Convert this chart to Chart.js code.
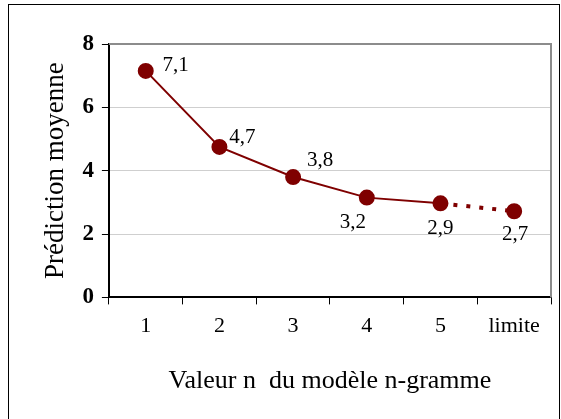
<!DOCTYPE html>
<html>
<head>
<meta charset="utf-8">
<script src="https://cdn.jsdelivr.net/npm/chart.js@4.4.1/dist/chart.umd.min.js"></script>
<style>
  html, body { margin: 0; padding: 0; background: #fff; }
  #cadre { position: absolute; left: 8px; top: 4px; width: 550px; height: 440px; border: 1px solid #000; }
  #zone { position: absolute; left: 0; top: 0; width: 561px; height: 419px; }
</style>
</head>
<body>
<div id="cadre"></div>
<div id="zone"><canvas id="grafico" width="561" height="419"></canvas></div>
<script>
// données
const categories = ["1", "2", "3", "4", "5", "limite"];
const valeurs = [7.15, 4.75, 3.8, 3.15, 2.97, 2.72];
const etiquettes = ["7,1", "4,7", "3,8", "3,2", "2,9", "2,7"];
const ticksY = [0, 2, 4, 6, 8];

const rouge = "#7f0000";
const police = "'Liberation Serif', 'DejaVu Serif', serif";

// décalage des étiquettes par rapport aux points
const decalages = [[30, -5], [23, -9], [27, -17], [-14, 25], [0, 25], [1, 23]];

const pluginEtiquettes = {
    id: "etiquettes",
    afterDatasetsDraw(chart) {
        const ctx = chart.ctx;
        const meta = chart.getDatasetMeta(0);
        ctx.save();
        ctx.font = "21px " + police;
        ctx.fillStyle = "#000";
        ctx.textAlign = "center";
        ctx.textBaseline = "middle";
        meta.data.forEach((p, i) => {
            ctx.fillText(etiquettes[i], p.x + decalages[i][0], p.y + decalages[i][1]);
        });
        ctx.restore();
    }
};

const pluginCadre = {
    id: "cadre",
    beforeDatasetsDraw(chart) {
        const { ctx, chartArea: a } = chart;
        ctx.save();
        ctx.strokeStyle = "#8c8c8c";
        ctx.lineWidth = 2;
        ctx.beginPath();
        ctx.moveTo(a.left, a.top);
        ctx.lineTo(a.right, a.top);
        ctx.lineTo(a.right, a.bottom);
        ctx.stroke();
        ctx.restore();
    }
};

new Chart(document.getElementById("grafico"), {
    type: "line",
    data: {
        labels: categories,
        datasets: [{
            data: valeurs,
            borderColor: rouge,
            backgroundColor: rouge,
            borderWidth: 2,
            pointRadius: 7,
            pointHoverRadius: 7,
            pointBackgroundColor: rouge,
            pointBorderColor: rouge,
            tension: 0,
            segment: {
                borderDash: c => c.p1DataIndex === 5 ? [4, 9] : undefined,
                borderWidth: c => c.p1DataIndex === 5 ? 4 : 2
            }
        }]
    },
    options: {
        responsive: false,
        animation: false,
        layout: { padding: { top: 44, right: 10, bottom: 18, left: 36 } },
        plugins: {
            legend: { display: false },
            tooltip: { enabled: false }
        },
        scales: {
            x: {
                offset: true,
                grid: {
                    offset: true,
                    drawOnChartArea: false,
                    drawTicks: true,
                    tickLength: 7,
                    color: "#000"
                },
                border: { color: "#000", width: 2 },
                ticks: { font: { family: police, size: 22 }, color: "#000", padding: 9 },
                title: {
                    display: true,
                    text: "Valeur n  du modèle n-gramme",
                    font: { family: police, size: 26 },
                    color: "#000",
                    padding: { top: 17 }
                }
            },
            y: {
                min: 0,
                max: 8,
                afterBuildTicks: axis => { axis.ticks = ticksY.map(v => ({ value: v })); },
                grid: {
                    color: "#cfcfcf",
                    tickLength: 7,
                    tickColor: "#000"
                },
                border: { color: "#000", width: 2 },
                ticks: { font: { family: police, size: 23, weight: "bold" }, color: "#000", padding: 8 },
                title: {
                    display: true,
                    text: "Prédiction moyenne",
                    font: { family: police, size: 27 },
                    color: "#000",
                    padding: { bottom: 2 }
                }
            }
        }
    },
    plugins: [pluginCadre, pluginEtiquettes]
});
</script>
</body>
</html>
